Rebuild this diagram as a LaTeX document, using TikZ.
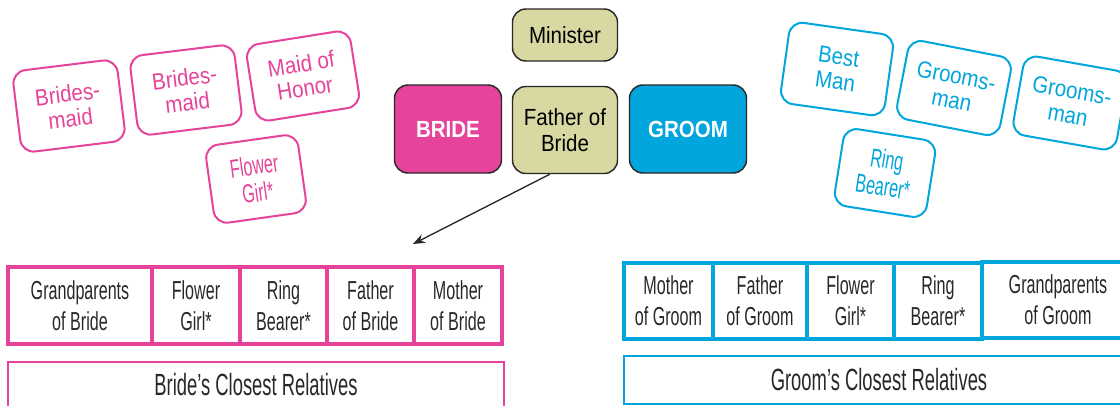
\documentclass[tikz,border=0pt]{standalone}
\usepackage{fontspec}
\usetikzlibrary{arrows.meta}
\newfontfamily\arfont{Liberation Sans}[FakeStretch=0.88]
\newfontfamily\condfont{Liberation Sans}[FakeStretch=0.62]
\newfontfamily\condbigfont{Liberation Sans}[FakeStretch=0.6]
\definecolor{bpink}{RGB}{229,68,154}
\definecolor{gblue}{RGB}{0,166,220}
\definecolor{khaki}{RGB}{216,216,162}
\definecolor{dgray}{RGB}{40,40,40}
\begin{document}
\begin{tikzpicture}[x=0.75pt,y=-0.75pt,
  tag/.style={draw,line width=1.5pt,rounded corners=10pt,fill=white,align=center,inner sep=0pt},
  pinktag/.style={tag,draw=bpink,text=bpink,minimum width=78.75pt,minimum height=61.5pt,
     font=\arfont\fontsize{17.5}{18.5}\selectfont},
  bluetag/.style={tag,draw=gblue,text=gblue,minimum width=78.75pt,minimum height=61.5pt,
     font=\arfont\fontsize{17.5}{18.5}\selectfont},
  condtag/.style={minimum width=69.75pt,minimum height=59pt,font=\condfont\fontsize{19.5}{20.5}\selectfont},
  centerbox/.style={draw=dgray,line width=1.1pt,rounded corners=10pt,align=center,inner sep=0pt,
     font=\arfont\fontsize{17.5}{20}\selectfont},
  cell/.style={draw,line width=2.6pt,align=center,inner sep=0pt,outer sep=0pt,text=dgray,
     minimum height=57.75pt,font=\condfont\fontsize{19.5}{23}\selectfont},
  pcell/.style={cell,draw=bpink},
  gcell/.style={cell,draw=gblue},
  bigcell/.style={draw,line width=2.2pt,inner sep=0pt,text=dgray,font=\condbigfont\fontsize{23}{24}\selectfont}
]
\useasboundingbox (0,0) rectangle (1120,405);

% Bride's attendants
\node[pinktag,rotate=7] (bm1) at (69,106) {Brides-\\maid};
\node[pinktag,rotate=7,minimum height=60pt] (bm2) at (186,90) {Brides-\\maid};
\node[pinktag,rotate=9,minimum height=58pt] (moh) at (303,76) {Maid of\\Honor};
\node[pinktag,condtag,rotate=8] (fg) at (256,179) {Flower\\Girl*};

% Groom's attendants
\node[bluetag,rotate=-8] (bman) at (837,69) {Best\\Man};
\node[bluetag,rotate=-11,minimum height=60pt] (gm1) at (954,88) {Grooms-\\man};
\node[bluetag,rotate=-10,minimum height=60pt] (gm2) at (1070,103) {Grooms-\\man};
\node[bluetag,condtag,rotate=-9,minimum height=58.5pt] (rb) at (885,173) {Ring\\Bearer*};

% Center
\node[centerbox,fill=khaki,minimum width=78.75pt,minimum height=39pt] (min) at (565,35) {Minister};
\node[centerbox,fill=bpink,text=white,minimum width=80.25pt,minimum height=66pt,font=\arfont\bfseries\fontsize{17.5}{20}\selectfont] (bride) at (448,129) {BRIDE};
\node[centerbox,fill=khaki,minimum width=78.75pt,minimum height=65.25pt] (fob) at (565,130) {Father of\\Bride};
\node[centerbox,fill=gblue,text=white,minimum width=87.75pt,minimum height=66pt,font=\arfont\bfseries\fontsize{17.5}{20}\selectfont] (groom) at (688,129) {GROOM};

\coordinate (arrowend) at (413,244);
\draw[line width=1pt,dgray,-{Stealth[length=9pt,width=7pt]}] (fob.251) -- (arrowend);

% Bride's row
\node[pcell,minimum width=108pt] (p1) at (80,305.5) {Grandparents\\of Bride};
\node[pcell,minimum width=66pt] (p2) at (196,305.5) {Flower\\Girl*};
\node[pcell,minimum width=65.25pt] (p3) at (283.5,305.5) {Ring\\Bearer*};
\node[pcell,minimum width=65.25pt] (p4) at (370.5,305.5) {Father\\of Bride};
\node[pcell,minimum width=66pt] (p5) at (458,305.5) {Mother\\of Bride};
\node[bigcell,draw=bpink,minimum width=372pt,minimum height=34.5pt] (pr) at (256,385) {Bride’s Closest Relatives};

% Groom's row
\node[gcell,minimum width=66.75pt,minimum height=57pt] (g1) at (668.5,301) {Mother\\of Groom};
\node[gcell,minimum width=70.5pt,minimum height=57pt] (g2) at (760,301) {Father\\of Groom};
\node[gcell,minimum width=65.25pt,minimum height=57pt] (g3) at (850.5,301) {Flower\\Girl*};
\node[gcell,minimum width=66pt,minimum height=57pt] (g4) at (938,301) {Ring\\Bearer*};
\node[gcell,minimum width=114pt,minimum height=57pt] (g5) at (1058,300) {Grandparents\\of Groom};
\node[bigcell,draw=gblue,minimum width=382.5pt,minimum height=36pt] (gr) at (879,380) {Groom’s Closest Relatives};
\end{tikzpicture}
\end{document}
